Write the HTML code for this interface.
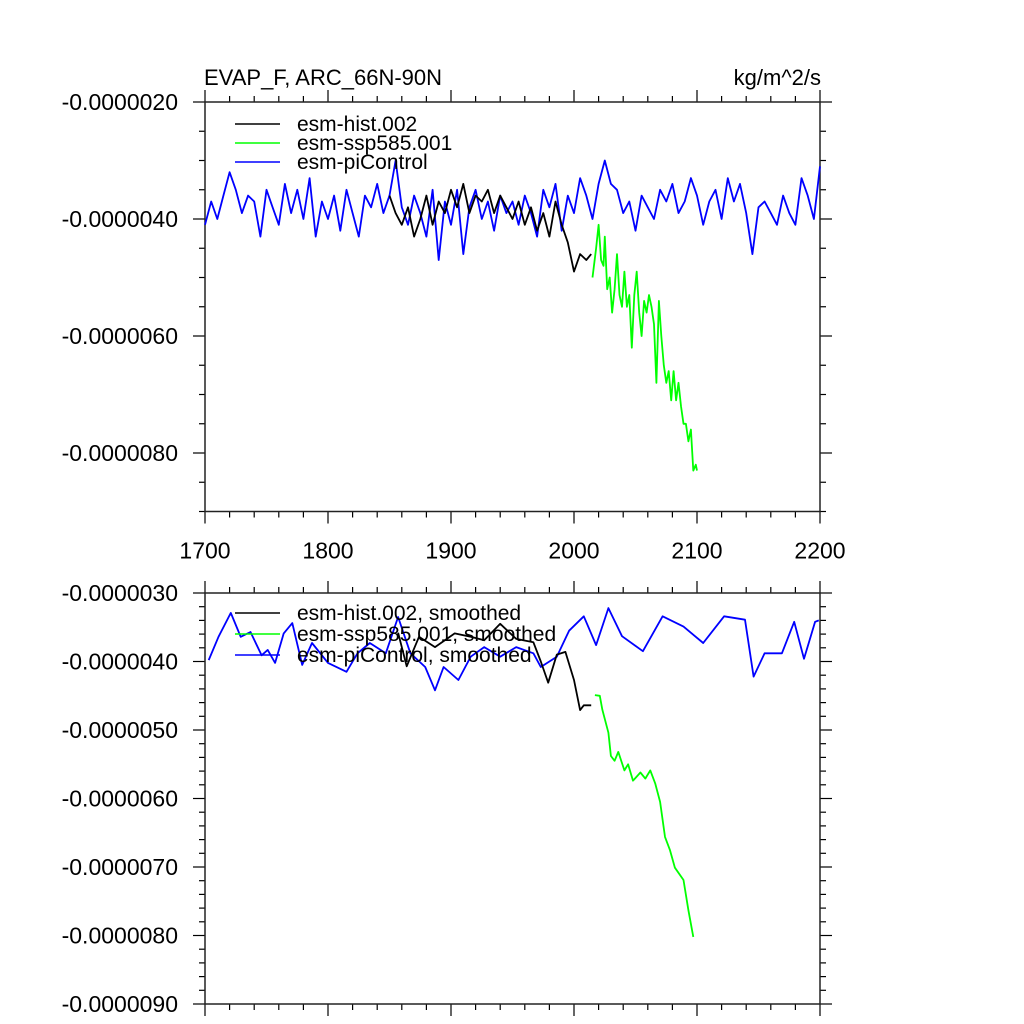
<!DOCTYPE html>
<html><head><meta charset="utf-8"><style>
html,body{margin:0;padding:0;background:#fff}
svg{display:block}
text{font-family:"Liberation Sans",sans-serif;fill:#000}
</style></head><body>
<svg id="chart" width="1024" height="1024" viewBox="0 0 1024 1024" xmlns="http://www.w3.org/2000/svg">
<text x="204" y="85" font-size="22">EVAP_F, ARC_66N-90N</text>
<text x="821" y="85" font-size="22" text-anchor="end">kg/m^2/s</text>
</svg>
<script>
// ---- data (values in units of 1e-6 kg/m^2/s) ----
const piStart = 1700, piStep = 5;
const piValues = [-4.1,-3.7,-4.0,-3.6,-3.2,-3.5,-3.9,-3.6,-3.7,-4.3,-3.5,-3.8,-4.1,-3.4,-3.9,-3.5,-4.0,-3.3,-4.3,-3.7,
-4.0,-3.6,-4.2,-3.5,-3.9,-4.3,-3.6,-3.8,-3.4,-3.9,-3.6,-3.0,-3.8,-4.1,-3.6,-3.9,-4.3,-3.5,-4.7,-3.7,
-4.1,-3.5,-4.6,-3.8,-3.5,-4.0,-3.7,-4.2,-3.6,-3.9,-3.7,-4.1,-3.6,-3.9,-4.3,-3.5,-3.8,-3.4,-4.2,-3.6,
-3.9,-3.3,-3.6,-4.0,-3.4,-3.0,-3.4,-3.5,-3.9,-3.7,-4.2,-3.6,-3.8,-4.0,-3.5,-3.7,-3.4,-3.9,-3.7,-3.3,
-3.6,-4.1,-3.7,-3.5,-4.0,-3.3,-3.7,-3.4,-3.9,-4.6,-3.8,-3.7,-3.9,-4.1,-3.6,-3.9,-4.1,-3.3,-3.6,-4.0,-3.1];
const histYears = [1850,1855,1860,1865,1870,1875,1880,1885,1890,1895,1900,1905,1910,1915,1920,1925,1930,1935,1940,1945,1950,1955,1960,1965,1970,1975,1980,1985,1990,1995,2000,2005,2010,2014];
const histValues = [-3.6,-3.9,-4.1,-3.8,-4.3,-4.0,-3.6,-4.1,-3.7,-3.9,-3.5,-3.8,-3.4,-3.9,-3.6,-3.7,-3.5,-3.9,-3.6,-3.8,-4.0,-3.7,-4.1,-3.8,-4.2,-3.9,-4.3,-3.7,-4.1,-4.4,-4.9,-4.6,-4.7,-4.6];
const sspYears = [2015,2018,2020,2022,2024,2025,2027,2029,2031,2033,2035,2037,2039,2041,2043,2045,2047,2049,2051,2053,2055,2057,2059,2061,2063,2065,2067,2069,2071,2073,2075,2077,2079,2081,2083,2085,2087,2089,2091,2093,2095,2097,2099,2100];
const sspValues = [-5.0,-4.5,-4.1,-4.7,-4.8,-4.3,-5.2,-5.0,-5.6,-5.2,-4.6,-5.3,-5.5,-4.9,-5.5,-5.3,-6.2,-5.3,-4.9,-5.6,-6.0,-5.4,-5.6,-5.3,-5.5,-5.8,-6.8,-5.4,-6.0,-6.5,-6.8,-6.6,-7.1,-6.6,-7.1,-6.8,-7.2,-7.5,-7.5,-7.8,-7.6,-8.3,-8.2,-8.3];
const piSmYears = [1703,1711,1721,1729,1737,1746,1751,1757,1764,1771,1779,1787,1800,1815,1824,1834,1847,1857,1867,1879,1887,1894,1906,1916,1927,1940,1953,1967,1973,1986,1996,2008,2018,2028,2039,2056,2072,2089,2105,2122,2139,2146,2155,2169,2179,2187,2196,2199];
const piSmValues = [-3.98,-3.64,-3.29,-3.64,-3.57,-3.91,-3.83,-4.02,-3.59,-3.44,-4.05,-3.73,-4.02,-4.15,-3.88,-3.73,-3.88,-3.35,-3.88,-4.08,-4.42,-4.08,-4.27,-3.93,-3.79,-3.93,-3.79,-3.88,-4.08,-3.93,-3.55,-3.34,-3.76,-3.22,-3.63,-3.85,-3.34,-3.49,-3.73,-3.34,-3.39,-4.22,-3.88,-3.88,-3.42,-3.96,-3.42,-3.40];
const histSmYears = [1857,1864,1874,1887,1903,1916,1927,1940,1953,1967,1973,1979,1986,1993,2000,2005,2008,2014];
const histSmValues = [-3.58,-4.07,-3.64,-3.79,-3.59,-3.64,-3.69,-3.45,-3.67,-3.72,-4.0,-4.31,-3.9,-3.86,-4.27,-4.71,-4.64,-4.64];
const sspSmYears = [2017,2021,2023,2028,2030,2033,2036,2041,2044,2048,2054,2058,2062,2066,2070,2074,2078,2082,2089,2093,2097];
const sspSmValues = [-4.49,-4.50,-4.70,-5.04,-5.38,-5.45,-5.32,-5.59,-5.50,-5.74,-5.62,-5.71,-5.59,-5.78,-6.05,-6.56,-6.75,-7.01,-7.19,-7.63,-8.02];
const xTickLabels = ["1700","1800","1900","2000","2100","2200"];
const topYTicks = [-2,-4,-6,-8];
const topYLabels = ["-0.0000020","-0.0000040","-0.0000060","-0.0000080"];
const botYTicks = [-3,-4,-5,-6,-7,-8,-9];
const botYLabels = ["-0.0000030","-0.0000040","-0.0000050","-0.0000060","-0.0000070","-0.0000080","-0.0000090"];

const NS = "http://www.w3.org/2000/svg";
const svg = document.getElementById('chart');
function mk(tag, attrs){const e=document.createElementNS(NS,tag);for(const k in attrs)e.setAttribute(k,attrs[k]);svg.appendChild(e);return e;}
const X0=205,X1=820;
function xs(yr){return X0+(yr-1700)/500*(X1-X0);}

function drawPanel(p){
  const ys=v=>p.top+(p.vmax-v)/(p.vmax-p.vmin)*(p.bot-p.top);
  for(let yr=1700;yr<=2200;yr+=20){
    const major=yr%100===0, L=major?12:6, x=xs(yr);
    const t1=mk('line',{x1:x,x2:x,y1:p.bot,y2:p.bot+L,stroke:'#000','stroke-width':1.2});
    
    
    const t2=mk('line',{x1:x,x2:x,y1:p.top,y2:p.top-L,stroke:'#000','stroke-width':1.2});
    
    
  }
  if(p.xlabels){
    xTickLabels.forEach(s=>{
      const t=mk('text',{x:xs(+s),y:p.bot+47,'font-size':23,'text-anchor':'middle'});
      t.textContent=s;
      
      
    });
  }
  const n=Math.round((p.vmax-p.vmin)/p.minor);
  for(let i=0;i<=n;i++){
    const v=p.vmax-i*p.minor, y=ys(v);
    const major=p.majors.some(m=>Math.abs(m-v)<1e-6), L=major?12:6;
    const a=mk('line',{x1:X0-L,x2:X0,y1:y,y2:y,stroke:'#000','stroke-width':1.2});
    
    
    const b=mk('line',{x1:X1,x2:X1+L,y1:y,y2:y,stroke:'#000','stroke-width':1.2});
    
    
  }
  p.majors.forEach((m,i)=>{
    const t=mk('text',{x:178,y:ys(m)+8,'font-size':23,'text-anchor':'end'});
    t.textContent=p.labels[i];
    
    
  });
  const fr=mk('rect',{x:X0,y:p.top,width:X1-X0,height:p.bot-p.top,fill:'none',stroke:'#222','stroke-width':1.5});
  
  
  p.series.forEach(s=>{
    const pts=s.years.map((yr,i)=>xs(yr).toFixed(1)+','+ys(s.vals[i]).toFixed(1)).join(' ');
    const pl=mk('polyline',{points:pts,fill:'none',stroke:s.color,'stroke-width':1.8,'stroke-linejoin':'round'});
    
    
  });
  p.legend.forEach((lg,i)=>{
    const y=p.legY+i*p.legDy;
    const l=mk('line',{x1:235,x2:280,y1:y,y2:y,stroke:lg.color,'stroke-width':1.5});
    
    
    const t=mk('text',{x:297,y:y+7,'font-size':21});
    t.textContent=lg.label;
    
    
  });
}
const piYears = piValues.map((_,i)=>piStart+i*piStep);
drawPanel({name:'top-panel',top:102,bot:511.5,vmax:-2,vmin:-9,minor:0.5,majors:topYTicks,labels:topYLabels,xlabels:true,
  series:[{name:'picontrol-line',years:piYears,vals:piValues,color:'#0000ff'},
          {name:'hist-line',years:histYears,vals:histValues,color:'#000'},
          {name:'ssp585-line',years:sspYears,vals:sspValues,color:'#00ff00'}],
  legY:124,legDy:19,
  legend:[{color:'#000',label:'esm-hist.002'},{color:'#00ff00',label:'esm-ssp585.001'},{color:'#0000ff',label:'esm-piControl'}]});
drawPanel({name:'bottom-panel',top:593,bot:1004,vmax:-3,vmin:-9,minor:0.2,majors:botYTicks,labels:botYLabels,xlabels:false,
  series:[{name:'picontrol-smoothed-line',years:piSmYears,vals:piSmValues,color:'#0000ff'},
          {name:'hist-smoothed-line',years:histSmYears,vals:histSmValues,color:'#000'},
          {name:'ssp585-smoothed-line',years:sspSmYears,vals:sspSmValues,color:'#00ff00'}],
  legY:613,legDy:21,
  legend:[{color:'#000',label:'esm-hist.002, smoothed'},{color:'#00ff00',label:'esm-ssp585.001, smoothed'},{color:'#0000ff',label:'esm-piControl, smoothed'}]});
</script>
</body></html>
